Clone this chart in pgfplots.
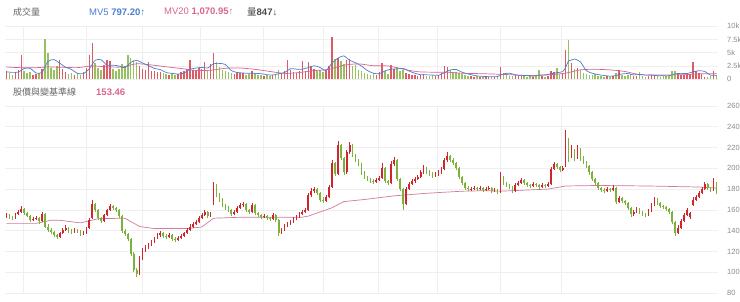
\documentclass[border=0pt]{standalone}
\usepackage{fontspec}
\setmainfont{Liberation Sans}
\newfontfamily\cjk{Noto Sans CJK TC}
\usepackage{pgfplots}
\usepackage{pgfplotstable}
\pgfplotsset{compat=1.18}
\definecolor{upred}{HTML}{CF252D}
\definecolor{dngreen}{HTML}{7DB23A}
\definecolor{mapink}{HTML}{D07A9E}
\definecolor{mvblue}{HTML}{4C7DD0}
\definecolor{mvpink}{HTML}{D9648F}
\definecolor{gridc}{HTML}{EFEFEF}
\definecolor{lblc}{HTML}{8A8A8A}
\definecolor{ttl}{HTML}{666666}

\pgfplotstableread{
i o h l c v
0 153 157 152 155 1500
1 155 156 151 153 1200
2 153 154 150 152 900
3 152 157 151 156 1400
4 156 160 155 158 1800
5 158 164 157 161 4500
6 161 162 155 157 1600
7 157 158 153 154 1100
8 154 155 148 150 1300
9 150 153 149 151 900
10 151 154 150 152 1000
11 152 153 146 149 1200
12 149 158 148 156 2000
13 156 157 143 144 7500
14 144 146 139 141 5000
15 141 143 137 139 2200
16 139 140 134 136 1800
17 136 137 132 134 2500
18 134 139 133 138 3600
19 138 143 137 141 2000
20 141 145 140 143 1400
21 143 144 138 140 1000
22 140 142 137 139 1200
23 139 143 138 141 900
24 141 142 138 140 1100
25 140 141 135 137 800
26 137 140 136 138 1300
27 138 144 137 143 2200
28 143 152 142 150 4500
29 152 170 151 166 6900
30 166 167 158 160 3000
31 160 161 150 152 2200
32 152 153 147 149 1700
33 149 156 148 155 2600
34 155 161 154 160 3600
35 160 166 159 164 3400
36 164 165 160 162 2000
37 162 163 158 160 1500
38 160 161 152 154 2000
39 154 155 138 140 2800
40 140 142 135 137 2500
41 137 138 130 132 4500
42 132 133 116 118 4000
43 118 119 100 102 3600
44 102 104 95 98 3200
45 98 116 97 114 2500
46 114 123 112 121 2000
47 121 126 119 124 1800
48 124 128 122 126 3300
49 126 131 125 129 1600
50 129 134 128 133 1500
51 133 138 132 136 1300
52 136 140 134 138 1400
53 138 139 133 135 1100
54 135 137 132 134 1000
55 134 138 133 136 900
56 136 137 130 132 1200
57 132 134 129 131 800
58 131 135 130 133 1000
59 133 137 132 135 1300
60 135 139 134 138 1500
61 138 143 137 141 2000
62 141 146 140 144 3600
63 144 148 143 146 1800
64 146 150 145 148 1600
65 148 154 147 152 2200
66 152 157 151 155 2000
67 155 160 154 158 3300
68 158 159 152 154 1500
69 154 158 153 156 2800
70 166 187 165 184 5000
71 184 185 172 174 3200
72 174 176 168 170 2400
73 170 171 163 165 1800
74 165 166 160 162 1500
75 162 164 158 160 1300
76 160 161 154 156 1200
77 156 160 155 158 1000
78 158 164 157 162 1400
79 162 167 161 165 1200
80 165 168 163 166 1100
81 166 167 158 160 900
82 160 161 156 158 1000
83 158 167 157 165 1500
84 165 166 155 157 1100
85 157 158 153 155 800
86 155 156 151 153 900
87 153 156 152 154 700
88 154 155 150 152 800
89 152 153 149 151 700
90 151 157 150 155 900
91 155 156 148 150 1000
92 150 151 135 138 1800
93 138 143 137 141 1200
94 141 146 140 145 1500
95 145 148 144 146 3600
96 146 150 145 148 1800
97 148 153 147 151 1400
98 151 155 150 153 1200
99 153 158 152 156 1600
100 156 160 155 158 3400
101 158 162 157 160 1500
102 160 176 159 174 3300
103 174 181 172 178 2500
104 178 182 176 180 2000
105 180 181 174 176 1500
106 176 177 168 170 1800
107 170 172 167 169 1300
108 169 174 168 172 1600
109 172 184 171 182 2500
110 182 208 181 205 7900
111 205 206 193 195 3800
112 195 226 194 222 4000
113 222 223 208 210 3500
114 210 211 194 196 2800
115 196 218 195 216 3600
116 216 225 214 222 3900
117 222 223 211 213 2500
118 213 214 206 208 2700
119 208 209 202 204 1800
120 204 205 194 196 1500
121 196 197 190 192 1200
122 192 193 188 190 1000
123 190 191 186 188 900
124 188 190 185 187 1100
125 187 191 186 189 900
126 189 193 188 191 1300
127 191 205 190 200 3000
128 200 201 186 188 1600
129 188 189 184 186 1000
130 186 207 185 204 2700
131 204 211 202 208 2000
132 208 209 188 190 2300
133 190 191 178 180 1500
134 180 181 160 166 1800
135 166 182 165 180 1200
136 180 187 179 185 1000
137 185 190 184 188 800
138 188 192 186 190 900
139 190 194 189 192 700
140 192 198 191 196 900
141 196 203 195 200 1000
142 200 201 195 197 700
143 197 198 193 195 600
144 195 196 191 193 800
145 193 196 192 194 700
146 194 198 193 196 900
147 196 201 195 199 1200
148 199 210 198 208 2500
149 208 216 206 212 2300
150 212 213 206 208 1800
151 208 210 203 205 1400
152 205 206 198 200 1300
153 200 201 190 192 1100
154 192 193 184 186 1000
155 186 187 179 181 900
156 181 183 178 180 700
157 180 182 178 180.5 600
158 180 183 179 181 500
159 181 182 178 180 600
160 180 183 179 181 500
161 181 182 177 179 400
162 179 182 178 180 600
163 180 183 179 181 500
164 181 182 176 178 400
165 178 181 177 179 500
166 179 180 175 177 600
167 177 196 176 192 2400
168 192 193 184 186 1200
169 186 187 182 184 900
170 184 185 180 182 700
171 182 183 176 178 600
172 178 186 177 184 800
173 184 188 183 186 900
174 186 191 185 189 700
175 189 190 184 186 600
176 186 187 182 184 500
177 184 185 181 183 600
178 183 187 182 185 500
179 185 186 182 184 700
180 184 185 180 182 1800
181 182 186 181 184 600
182 184 185 181 183 500
183 183 187 182 185 700
184 185 201 184 199 1500
185 199 206 198 204 1300
186 204 205 199 201 2200
187 201 202 196 198 1000
188 198 202 197 200 1200
189 202 237 201 228 5500
190 228 229 206 212 7400
191 212 222 210 218 3000
192 218 219 207 210 2000
193 210 222 209 219 2100
194 219 220 207 210 1800
195 210 212 204 206 1200
196 206 207 200 202 1000
197 202 203 194 196 900
198 196 197 188 190 800
199 190 191 184 186 1000
200 186 187 179 181 700
201 181 182 177 179 600
202 179 181 176 178 500
203 178 182 177 180 600
204 180 181 177 179 500
205 179 184 178 181 700
206 181 182 166 168 1200
207 168 173 167 171 1800
208 171 172 167 169 800
209 169 170 165 167 700
210 167 168 160 162 900
211 162 163 153 156 1000
212 156 160 154 158 700
213 158 163 157 161 600
214 161 162 156 158 1400
215 158 159 154 156 700
216 156 157 153 155 500
217 155 161 154 159 600
218 159 167 158 165 800
219 165 172 164 170 900
220 170 171 165 167 600
221 167 168 162 164 500
222 164 165 161 163 600
223 163 164 159 161 700
224 161 162 156 158 800
225 158 159 146 148 1500
226 148 149 135 138 1500
227 138 145 137 143 1000
228 143 151 142 149 800
229 149 157 148 155 900
230 155 162 154 160 1100
231 153 158 151 157 1000
232 165 172 164 170 3200
233 170 174 169 172 1500
234 172 178 171 176 1200
235 176 182 175 180 1000
236 180 187 179 185 500
237 185 186 179 181 400
238 181 182 177 179 700
239 179 191 178 189 1500
240 186 187 175 177 850
}\price

\pgfplotstableread{
i m
0 1400
2 1300
4 1360
6 2040
8 2060
10 1180
12 1280
14 3340
16 3700
18 3020
20 2260
22 1840
24 1120
26 1060
28 1980
30 3580
32 3660
34 2620
36 2660
38 2500
40 2160
42 3160
44 3560
46 3060
48 2560
50 2040
52 1820
54 1260
56 1120
58 980
60 1160
62 1880
64 2100
66 2240
68 2120
70 2920
72 2980
74 2780
76 1640
78 1280
80 1180
82 1120
84 1120
86 1060
88 860
90 800
92 1040
94 1280
96 1980
98 1900
100 1880
102 2200
104 2540
106 2220
108 1640
110 3020
112 3960
114 4400
116 3560
118 3100
120 2480
122 1640
124 1140
126 1040
128 1580
130 1920
132 1920
134 2060
136 1560
138 1140
140 860
142 840
144 800
146 740
148 1220
150 1740
152 1860
154 1320
156 1000
158 740
160 580
162 520
164 480
166 520
168 1020
170 1160
172 840
174 740
176 700
178 580
180 820
182 820
184 1020
186 1240
188 1440
189 2240
190 3460
191 3620
192 3820
194 3260
196 1620
198 1140
200 880
202 720
204 580
206 700
208 1000
210 1080
212 820
214 920
216 780
218 800
220 680
222 680
224 640
226 1020
228 1120
230 1060
232 1400
234 1600
236 1480
238 760
240 790
}\mvfive

\pgfplotstableread{
i m
0 2300
4 2200
9 2150
14 2300
19 2250
24 2190
29 2505
34 2325
39 2305
44 2915
49 2690
54 2350
59 2025
64 1660
69 1690
74 2070
79 2115
84 1870
89 1475
94 1100
99 1275
104 1630
109 1870
114 2650
119 2895
124 2545
129 2500
134 1915
139 1420
144 1335
149 1325
154 1140
159 1075
164 995
169 895
174 750
179 730
184 865
189 1145
194 1775
199 1875
204 1765
209 1465
214 880
219 810
224 825
229 850
234 1020
239 1050
240 1071
}\mvtwenty

\pgfplotstableread{
i m
0 147
10 147
15 150
18 150
25 147.5
31 151.5
40 152
45 144
50 142
61 142
66 143.5
70 152
80 153
100 153
102 154
110 162
114 168
121 170
131 173.5
142 176
154 178
162 178.5
167 178
183 180
189 183
200 183.5
217 183
234 182
240 181
}\maline

\pgfplotsset{
  base/.style={
    scale only axis, width=713pt,
    xmin=-0.5, xmax=240.5,
    axis line style={draw=none},
    major tick length=0pt,
    xtick={5.6,26.9,45.8,65.4,86.7,107,125.6,145.5,166.8,187.7},
    xticklabels={},
    xmajorgrids, ymajorgrids,
    grid style={gridc, line width=0.6pt},
    yticklabel pos=right,
    scaled y ticks=false,
    /pgf/number format/assume math mode=true,
    yticklabel style={anchor=west, inner sep=0pt, xshift=9pt,
      font=\fontsize{7.5}{8}\selectfont, text=lblc},
  },
  wick/.style={draw=none, mark=none, forget plot,
    error bars/.cd, y dir=plus, y explicit, error mark=none,
    error bar style={draw=#1, line width=0.45pt}},
  body/.style={draw=none, mark=none, forget plot,
    error bars/.cd, y dir=plus, y explicit, error mark=none,
    error bar style={draw=#1, line width=1.7pt}},
}

\begin{document}
\begin{tikzpicture}
\path[use as bounding box] (0,0) rectangle (740pt,301pt);

% ---------- volume panel ----------
\begin{axis}[base, at={(5pt,221.7pt)}, anchor=south west,
  height=53.3pt, ymin=0, ymax=10000,
  ytick={0,2500,5000,7500,10000},
  yticklabels={0,2.5k,5k,7.5k,10k}]
\addplot[ycomb, mark=none, upred, opacity=0.75, line width=1.5pt]
  table[x=i, y expr={\thisrow{c}<\thisrow{o} ? nan : \thisrow{v}}] {\price};
\addplot[ycomb, mark=none, dngreen, opacity=0.8, line width=1.5pt]
  table[x=i, y expr={\thisrow{c}<\thisrow{o} ? \thisrow{v} : nan}] {\price};
\addplot[mvpink, line width=0.7pt, mark=none, smooth, tension=0.4] table[x=i, y=m] {\mvtwenty};
\addplot[mvblue, line width=0.7pt, mark=none, smooth, tension=0.4] table[x=i, y=m] {\mvfive};
\end{axis}

% ---------- price panel ----------
\begin{axis}[base, at={(5pt,8pt)}, anchor=south west,
  height=187pt, ymin=80, ymax=260,
  ytick={80,100,...,260},
  yticklabels={80,100,120,140,160,180,200,220,240,260}]
\addplot[mapink, line width=0.7pt, mark=none] table[x=i, y=m] {\maline};
% up candles (red)
\addplot[wick=upred] table[x=i,
  y expr={\thisrow{c}<\thisrow{o} ? nan : \thisrow{l}},
  y error plus expr={\thisrow{h}-\thisrow{l}}] {\price};
\addplot[body=upred] table[x=i,
  y expr={\thisrow{c}<\thisrow{o} ? nan : \thisrow{o}},
  y error plus expr={\thisrow{c}-\thisrow{o}}] {\price};
% down candles (green)
\addplot[wick=dngreen] table[x=i,
  y expr={\thisrow{c}<\thisrow{o} ? \thisrow{l} : nan},
  y error plus expr={\thisrow{h}-\thisrow{l}}] {\price};
\addplot[body=dngreen] table[x=i,
  y expr={\thisrow{c}<\thisrow{o} ? \thisrow{c} : nan},
  y error plus expr={\thisrow{o}-\thisrow{c}}] {\price};
\end{axis}

% ---------- titles ----------
\node[anchor=west, inner sep=0pt, text=ttl, font=\cjk\fontsize{9}{10}\selectfont] at (13pt,289pt) {成交量};
\node[anchor=west, inner sep=0pt, text=mvblue, font=\fontsize{9.5}{10}\selectfont] at (89pt,289pt) {MV5 \textbf{797.20}↑};
\node[anchor=west, inner sep=0pt, text=mvpink, font=\fontsize{9.5}{10}\selectfont] at (164pt,289pt) {MV20 \textbf{1,070.95}↑};
\node[anchor=west, inner sep=0pt, text=black!70, font=\fontsize{9.5}{10}\selectfont] at (247pt,289pt) {{\cjk 量}\textbf{847}↓};
\node[anchor=west, inner sep=0pt, text=ttl, font=\cjk\fontsize{9}{10}\selectfont] at (13pt,209pt) {股價與變基準線};
\node[anchor=west, inner sep=0pt, text=mvpink, font=\bfseries\fontsize{9.5}{10}\selectfont] at (96pt,209pt) {153.46};
\end{tikzpicture}
\end{document}
